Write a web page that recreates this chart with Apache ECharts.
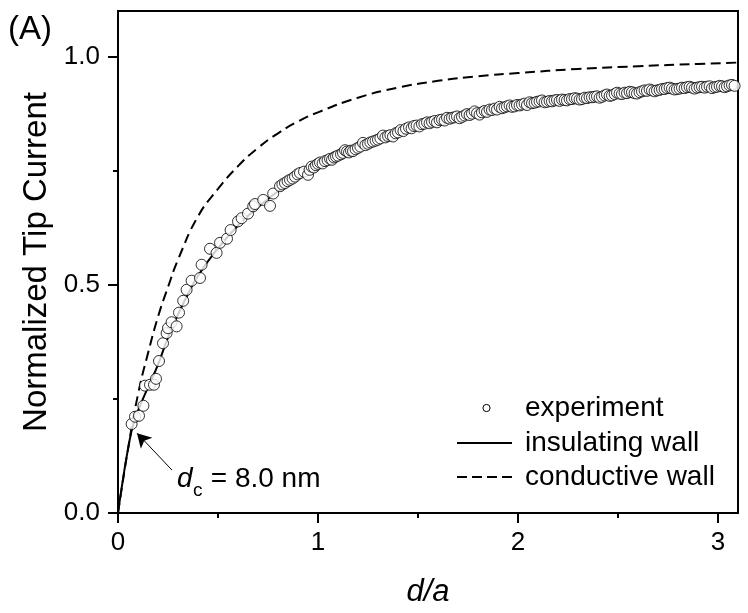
<!DOCTYPE html>
<html>
<head>
<meta charset="utf-8">
<script src="https://cdn.jsdelivr.net/npm/echarts@6/dist/echarts.min.js"></script>
<style>
html,body{margin:0;padding:0;background:#fff;}
#chart{width:748px;height:613px;}
</style>
</head>
<body>
<div id="chart"></div>
<script>
// ---- data ----
var expX = [0.068,0.085,0.105,0.127,0.135,0.16,0.18,0.19,0.205,0.225,0.243,0.25,0.268,0.293,0.305,0.326,0.343,0.368,0.41,0.418,0.46,0.493,0.51,0.545,0.563,0.60,0.618,0.65,0.676,0.685,0.726,0.76,0.776,
0.81,0.822,0.835,0.848,0.86,0.873,0.885,0.898,0.91,0.93,0.95,0.958,0.968,0.98,0.99,1.0,1.01,1.023,1.035,1.048,1.06,1.07,1.08,1.09,1.10,1.115,1.125,1.135,1.145,1.155,1.165,1.175,1.188,1.20,1.212,1.225,1.237,1.25,1.262,1.275,1.288,1.30,1.312,1.325,1.337,1.35,1.362,1.375,1.388,
1.40,1.413,1.427,1.44,1.455,1.468,1.48,1.493,1.507,1.52,1.532,1.545,1.558,1.57,1.583,1.595,1.608,1.62,1.633,1.645,1.658,1.67,1.683,1.695,1.708,1.72,1.733,1.745,1.758,1.77,1.783,1.795,1.808,1.82,1.833,1.845,1.858,1.87,1.883,1.895,1.908,1.92,1.933,1.945,1.958,1.97,1.983,1.995,
2.008,2.02,2.033,2.045,2.058,2.07,2.083,2.095,2.108,2.12,2.133,2.145,2.158,2.17,2.183,2.195,2.208,2.22,2.233,2.245,2.258,2.27,2.283,2.295,2.308,2.32,2.333,2.345,2.358,2.37,2.383,2.395,2.408,2.42,2.433,2.445,2.458,2.47,2.483,2.495,
2.508,2.52,2.533,2.545,2.558,2.57,2.583,2.595,2.608,2.62,2.633,2.645,2.658,2.67,2.683,2.695,2.708,2.72,2.733,2.745,2.758,2.77,2.783,2.795,2.808,2.82,2.833,2.845,2.858,2.87,2.883,2.895,2.908,2.92,2.933,2.945,2.958,2.97,2.983,2.995,
3.008,3.02,3.033,3.045,3.058,3.07,3.083];
var expY = [0.195,0.211,0.213,0.235,0.279,0.281,0.281,0.294,0.333,0.372,0.394,0.405,0.418,0.409,0.439,0.465,0.489,0.509,0.515,0.544,0.579,0.570,0.592,0.601,0.620,0.639,0.646,0.656,0.672,0.677,0.686,0.673,0.700,
0.716,0.720,0.723,0.727,0.730,0.733,0.737,0.742,0.745,0.748,0.741,0.752,0.759,0.757,0.762,0.765,0.768,0.766,0.771,0.773,0.776,0.774,0.779,0.781,0.783,0.786,0.789,0.795,0.792,0.790,0.794,0.793,0.797,0.800,0.803,0.811,0.806,0.809,0.812,0.814,0.816,0.818,0.821,0.827,0.823,0.826,0.828,0.825,0.832,
0.834,0.839,0.837,0.842,0.845,0.843,0.848,0.849,0.847,0.852,0.853,0.856,0.854,0.857,0.859,0.856,0.861,0.862,0.860,0.866,0.864,0.866,0.867,0.869,0.865,0.868,0.871,0.874,0.872,0.875,0.880,0.876,0.873,0.878,0.881,0.879,0.884,0.883,0.886,0.884,0.890,0.887,0.889,0.891,0.893,0.890,0.891,0.894,
0.893,0.895,0.897,0.894,0.900,0.898,0.899,0.901,0.902,0.904,0.900,0.901,0.903,0.902,0.904,0.905,0.903,0.906,0.905,0.904,0.907,0.907,0.909,0.908,0.906,0.907,0.910,0.909,0.911,0.911,0.912,0.913,0.910,0.912,0.915,0.917,0.914,0.915,0.918,0.921,
0.919,0.918,0.921,0.920,0.923,0.922,0.920,0.919,0.922,0.924,0.926,0.925,0.928,0.926,0.924,0.926,0.927,0.929,0.929,0.931,0.932,0.930,0.928,0.929,0.930,0.932,0.931,0.933,0.934,0.932,0.930,0.932,0.933,0.934,0.932,0.934,0.935,0.931,0.933,0.934,
0.936,0.935,0.933,0.935,0.937,0.938,0.936];

var insX = [0,0.02,0.05,0.08,0.12,0.16,0.2,0.25,0.3,0.35,0.4,0.5,0.6,0.7,0.8,0.9,1.0,1.2,1.4,1.6,1.8,2.0,2.3,2.6,2.9,3.1];
var insY = [0,0.06,0.14,0.2,0.245,0.285,0.325,0.385,0.435,0.48,0.52,0.58,0.63,0.67,0.705,0.735,0.76,0.80,0.835,0.858,0.877,0.892,0.907,0.92,0.931,0.937];

var conX = [0,0.05,0.1,0.15,0.2,0.25,0.3,0.4,0.5,0.6,0.7,0.8,0.9,1.0,1.2,1.4,1.6,1.8,2.0,2.3,2.6,2.9,3.1];
var conY = [0,0.14,0.26,0.35,0.43,0.495,0.555,0.65,0.71,0.76,0.80,0.832,0.858,0.878,0.91,0.932,0.947,0.957,0.964,0.973,0.979,0.984,0.987];

var xMajorTicks = [0,1,2,3];
var xMinorTicks = [0.5,1.5,2.5];
var yMajorTicks = [0,0.5,1.0];
var yMinorTicks = [0.25,0.75];

var seriesNames = ['experiment','insulating wall','conductive wall'];
var annotText = {d:'d', sub:'c', rest:' = 8.0 nm'};
var arrowFrom = [0.27,0.094];
var arrowTo = [0.095,0.175];

function zip(a,b){ return a.map(function(v,i){return [v,b[i]];}); }

var FONT = 'Liberation Sans, Arial, sans-serif';
var chart = echarts.init(document.getElementById('chart'));

var xMin = 0, xMax = 3.1, yMin = 0, yMax = 1.1;

// legend drawn as graphic (layout only)
var legX0 = 457, legX1 = 512, legTextX = 525, legRows = [408, 443, 477];

var option = {
  backgroundColor:'#fff',
  animation:false,
  grid:{left:118,right:10,top:11,bottom:100,show:true,borderColor:'#000',borderWidth:2,backgroundColor:'transparent'},
  xAxis:[{
    type:'value',min:xMin,max:xMax,position:'bottom',
    name:'d/a',nameLocation:'middle',nameGap:64,
    nameTextStyle:{fontFamily:FONT,fontSize:31,fontStyle:'italic',color:'#000'},
    axisLine:{show:true,lineStyle:{color:'#000',width:2}},
    axisTick:{show:true,inside:false,length:10,lineStyle:{color:'#000',width:2},customValues:xMajorTicks},
    axisLabel:{show:true,margin:17,fontFamily:FONT,fontSize:26,color:'#000',customValues:xMajorTicks,
      formatter:function(v){return String(Math.round(v));}},
    splitLine:{show:false}
  },{
    type:'value',min:xMin,max:xMax,position:'bottom',
    axisLine:{show:false},
    axisTick:{show:true,inside:false,length:5,lineStyle:{color:'#000',width:2},customValues:xMinorTicks},
    axisLabel:{show:false},splitLine:{show:false}
  }],
  yAxis:[{
    type:'value',min:yMin,max:yMax,position:'left',
    name:'Normalized Tip Current',nameLocation:'middle',nameGap:61,
    nameTextStyle:{fontFamily:FONT,fontSize:33,color:'#000'},
    axisLine:{show:true,lineStyle:{color:'#000',width:2}},
    axisTick:{show:true,inside:false,length:10,lineStyle:{color:'#000',width:2},customValues:yMajorTicks},
    axisLabel:{show:true,margin:18,fontFamily:FONT,fontSize:26,color:'#000',customValues:yMajorTicks,
      formatter:function(v){return v.toFixed(1);}},
    splitLine:{show:false}
  },{
    type:'value',min:yMin,max:yMax,position:'left',
    axisLine:{show:false},
    axisTick:{show:true,inside:false,length:5,lineStyle:{color:'#000',width:2},customValues:yMinorTicks},
    axisLabel:{show:false},splitLine:{show:false}
  }],
  series:[{
    name:seriesNames[1],type:'line',xAxisIndex:0,yAxisIndex:0,
    data:zip(insX,insY),smooth:true,symbol:'none',
    itemStyle:{color:'#000'},
    lineStyle:{color:'#000',width:2,type:'solid'},z:2
  },{
    name:seriesNames[2],type:'line',xAxisIndex:0,yAxisIndex:0,
    data:zip(conX,conY),smooth:true,symbol:'none',
    itemStyle:{color:'#000'},
    lineStyle:{color:'#000',width:2,type:[10,5.5]},z:2,
    markLine:{
      silent:true,symbol:['none','arrow'],symbolSize:[12,14],
      lineStyle:{color:'#000',width:1,type:'solid'},label:{show:false},
      data:[[{coord:arrowFrom},{coord:arrowTo}]]
    }
  },{
    name:seriesNames[0],type:'scatter',xAxisIndex:0,yAxisIndex:0,
    data:zip(expX,expY),symbol:'circle',symbolSize:11,clip:true,
    itemStyle:{color:'#fff',borderColor:'#000',borderWidth:1},z:3
  }],
  graphic:[
    {type:'text',left:8,top:13,style:{text:'(A)',font:'33px '+FONT,fill:'#000'}},
    {type:'text',x:177,y:479,style:{text:annotText.d,font:'italic 28px '+FONT,fill:'#000',verticalAlign:'middle'}},
    {type:'text',x:193,y:491,style:{text:annotText.sub,font:'19px '+FONT,fill:'#000',verticalAlign:'middle'}},
    {type:'text',x:203,y:479,style:{text:annotText.rest,font:'28px '+FONT,fill:'#000',verticalAlign:'middle'}},
    // legend
    {type:'circle',shape:{cx:(legX0+legX1)/2+2,cy:legRows[0],r:3.6},style:{fill:'#fff',stroke:'#000',lineWidth:1}},
    {type:'line',shape:{x1:legX0,y1:legRows[1],x2:legX1,y2:legRows[1]},style:{stroke:'#000',lineWidth:2}},
    {type:'line',shape:{x1:legX0,y1:legRows[2],x2:legX1,y2:legRows[2]},style:{stroke:'#000',lineWidth:2,lineDash:[10,5]}},
    {type:'text',x:legTextX,y:legRows[0],style:{text:seriesNames[0],font:'28px '+FONT,fill:'#000',verticalAlign:'middle'}},
    {type:'text',x:legTextX,y:legRows[1],style:{text:seriesNames[1],font:'28px '+FONT,fill:'#000',verticalAlign:'middle'}},
    {type:'text',x:legTextX,y:legRows[2],style:{text:seriesNames[2],font:'28px '+FONT,fill:'#000',verticalAlign:'middle'}}
  ]
};
chart.setOption(option);
</script>
</body>
</html>
